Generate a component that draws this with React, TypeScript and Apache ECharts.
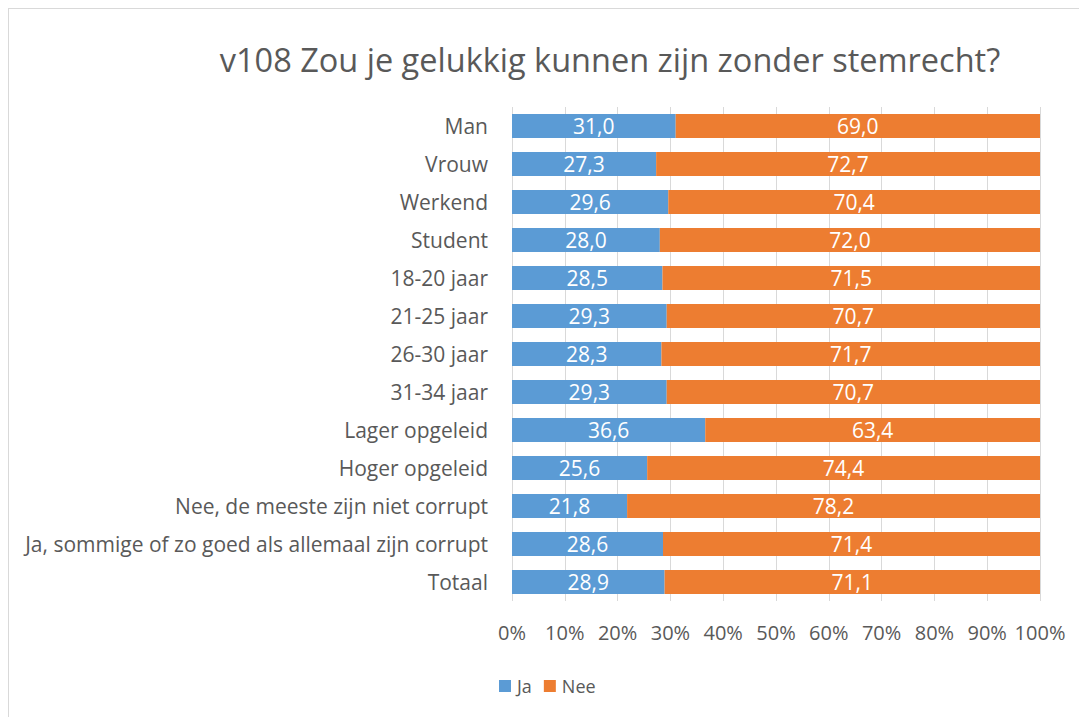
import React, { useEffect, useRef } from "react";
import * as echarts from "echarts";

const categories = [
  "Man",
  "Vrouw",
  "Werkend",
  "Student",
  "18-20 jaar",
  "21-25 jaar",
  "26-30 jaar",
  "31-34 jaar",
  "Lager opgeleid",
  "Hoger opgeleid",
  "Nee, de meeste zijn niet corrupt",
  "Ja, sommige of zo goed als allemaal zijn corrupt",
  "Totaal",
];
const jaValues = [31.0, 27.3, 29.6, 28.0, 28.5, 29.3, 28.3, 29.3, 36.6, 25.6, 21.8, 28.6, 28.9];
const neeValues = [69.0, 72.7, 70.4, 72.0, 71.5, 70.7, 71.7, 70.7, 63.4, 74.4, 78.2, 71.4, 71.1];
const titleText = "v108 Zou je gelukkig kunnen zijn zonder stemrecht?";

const FONT = "Open Sans";
const TEXT = "#595959";

export default function App() {
  const ref = useRef<HTMLDivElement>(null);
  useEffect(() => {
    if (!ref.current) return;
    const chart = echarts.init(ref.current, null, { renderer: "svg" });
    const fmt = (p: any) => Number(p.value).toFixed(1).replace(".", ",");
    chart.setOption({
      animation: false,
      textStyle: { fontFamily: FONT },
      graphic: [
        {
          type: "text",
          x: 601,
          y: 50,
          style: {
            text: titleText,
            font: `32.5px ${FONT}`,
            fill: TEXT,
            textAlign: "center",
            textVerticalAlign: "middle",
          },
        },
      ],
      legend: {
        left: 485,
        top: 663,
        itemWidth: 12,
        itemHeight: 12,
        itemGap: 12,
        icon: "rect",
        textStyle: { fontFamily: FONT, fontSize: 18, color: TEXT, padding: [0, 0, 0, 1] },
        data: ["Ja", "Nee"],
      },
      grid: { left: 503, right: 47, top: 98, bottom: 116, containLabel: false },
      xAxis: {
        type: "value",
        min: 0,
        max: 100,
        interval: 10,
        axisLine: { show: false },
        axisTick: { show: false },
        axisLabel: { formatter: "{value}%", fontFamily: FONT, fontSize: 20, color: TEXT, margin: 21 },
        splitLine: { lineStyle: { color: "#d9d9d9", width: 1 } },
      },
      yAxis: {
        type: "category",
        data: categories,
        inverse: true,
        axisLine: { show: false },
        axisTick: { show: false },
        axisLabel: { fontFamily: FONT, fontSize: 21, color: TEXT, margin: 24 },
      },
      series: [
        {
          name: "Ja",
          type: "bar",
          stack: "total",
          data: jaValues,
          barWidth: "63%",
          itemStyle: { color: "#5b9bd5" },
          label: { show: true, position: "inside", formatter: fmt, color: "#fff", fontFamily: FONT, fontSize: 21 },
        },
        {
          name: "Nee",
          type: "bar",
          stack: "total",
          data: neeValues,
          barWidth: "63%",
          itemStyle: { color: "#ed7d31" },
          label: { show: true, position: "inside", formatter: fmt, color: "#fff", fontFamily: FONT, fontSize: 21 },
        },
      ],
    });
    return () => chart.dispose();
  }, []);
  return (
    <div
      style={{
        width: 1078,
        height: 708,
        borderLeft: "1px solid #d9d9d9",
        borderTop: "1px solid #d9d9d9",
      }}
    >
      <div ref={ref} style={{ width: 1078, height: 708 }} />
    </div>
  );
}
